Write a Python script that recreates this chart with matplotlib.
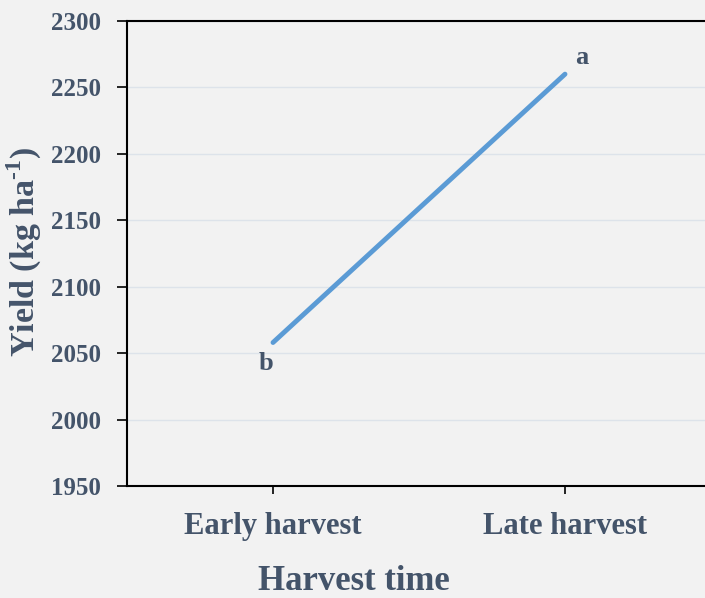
import matplotlib
matplotlib.use("Agg")
import matplotlib.pyplot as plt

categories = ["Early harvest", "Late harvest"]
yield_values = [2058, 2260]
letters = ["b", "a"]
y_ticks = [1950, 2000, 2050, 2100, 2150, 2200, 2250, 2300]

text_color = "#44546a"
bg = "#f2f2f2"

plt.rcParams["font.family"] = ["Liberation Serif", "DejaVu Serif"]
plt.rcParams["font.weight"] = "bold"
plt.rcParams["mathtext.fontset"] = "custom"
plt.rcParams["mathtext.rm"] = "Liberation Serif:bold"
plt.rcParams["mathtext.bf"] = "Liberation Serif:bold"

fig = plt.figure(figsize=(7.05, 5.98), dpi=100, facecolor=bg)
ax = fig.add_axes([127 / 705, 1 - 486 / 598, 584 / 705, 465 / 598], facecolor=bg)

x = list(range(len(categories)))
ax.plot(x, yield_values, color="#5b9bd5", lw=3.5, solid_capstyle="round", zorder=3)

# significance letters
ax.annotate(letters[0], (x[0], yield_values[0]), xytext=(-5, -15), textcoords="offset points",
            ha="center", va="center", fontsize=19, fontweight="bold", color=text_color)
ax.annotate(letters[1], (x[1], yield_values[1]), xytext=(12, 12), textcoords="offset points",
            ha="center", va="center", fontsize=19, fontweight="bold", color=text_color)

ax.set_xlim(-0.5, 1.5)
ax.set_ylim(1950, 2300)
ax.set_yticks(y_ticks)
ax.set_xticks(x)
ax.set_xticklabels(categories)
ax.grid(axis="y", color="#dde3ea", lw=1)
ax.set_axisbelow(True)

for s in ax.spines.values():
    s.set_color("black")
    s.set_linewidth(1.5)

ax.tick_params(axis="y", direction="out", length=7, width=1.2, colors="black",
               labelcolor=text_color, labelsize=18, pad=12)
ax.tick_params(axis="x", direction="out", length=6, width=1.2, colors="black",
               labelcolor=text_color, labelsize=22, pad=13)
for lbl in ax.get_xticklabels() + ax.get_yticklabels():
    lbl.set_fontweight("bold")

ax.set_xlabel("Harvest time", fontsize=25, fontweight="bold", color=text_color)
ax.xaxis.set_label_coords((354 - 127) / 584, (486 - 565) / 465)
ax.set_ylabel("Yield (kg ha$^{\\text{-1}}$)", fontsize=24.5, fontweight="bold",
              color=text_color)
ax.yaxis.set_label_coords((44 - 127) / 584, (486 - 252) / 465)

fig.savefig("out.png", dpi=100, facecolor=bg)
